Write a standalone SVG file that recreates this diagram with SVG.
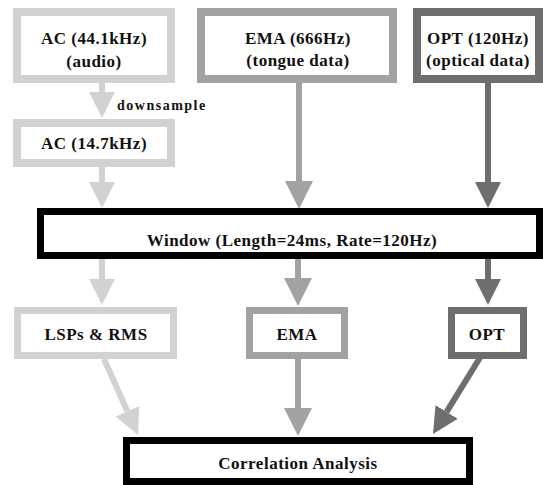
<svg xmlns="http://www.w3.org/2000/svg" width="543" height="485" viewBox="0 0 543 485">
  <style>
    .box { fill: #ffffff; }
    .light { stroke: #d2d2d2; }
    .mid { stroke: #a2a2a2; }
    .dark { stroke: #6e6e6e; }
    .black { stroke: #000000; }
    .lbl { font-family: "Liberation Serif", "Times New Roman", serif; font-weight: bold; font-size: 17px; letter-spacing: 0.5px; fill: #111111; text-anchor: middle; }
    .note { font-family: "Liberation Serif", "Times New Roman", serif; font-weight: bold; font-size: 14px; letter-spacing: 1.5px; fill: #111111; }
    .conn { fill: none; stroke-width: 6; }
  </style>
  <defs>
    <marker id="headLight" markerUnits="userSpaceOnUse" markerWidth="26" markerHeight="26" refX="0" refY="13" orient="auto" viewBox="0 0 26 26">
      <path d="M0,0 L26,13 L0,26 z" fill="#d2d2d2"/>
    </marker>
    <marker id="headMid" markerUnits="userSpaceOnUse" markerWidth="28" markerHeight="28" refX="0" refY="14" orient="auto" viewBox="0 0 28 28">
      <path d="M0,0 L28,14 L0,28 z" fill="#a2a2a2"/>
    </marker>
    <marker id="headDark" markerUnits="userSpaceOnUse" markerWidth="26" markerHeight="26" refX="0" refY="13" orient="auto" viewBox="0 0 26 26">
      <path d="M0,0 L26,13 L0,26 z" fill="#6e6e6e"/>
    </marker>
  </defs>

  <g id="connectors">
    <line class="conn light" x1="102" y1="83" x2="102" y2="92" marker-end="url(#headLight)"/>
    <line class="conn light" x1="102" y1="167" x2="102" y2="182" marker-end="url(#headLight)"/>
    <line class="conn mid" x1="299" y1="83" x2="299" y2="181" marker-end="url(#headMid)"/>
    <line class="conn dark" x1="488" y1="83" x2="488" y2="182" marker-end="url(#headDark)"/>
    <line class="conn light" x1="102" y1="259" x2="102" y2="279" marker-end="url(#headLight)"/>
    <line class="conn mid" x1="298" y1="259" x2="298" y2="278" marker-end="url(#headMid)"/>
    <line class="conn dark" x1="488" y1="259" x2="488" y2="279" marker-end="url(#headDark)"/>
    <line class="conn light" x1="104" y1="359" x2="127.4" y2="411.3" marker-end="url(#headLight)"/>
    <line class="conn mid" x1="298" y1="359" x2="298" y2="408" marker-end="url(#headMid)"/>
    <line class="conn dark" x1="481" y1="356" x2="446.6" y2="411.9" marker-end="url(#headDark)"/>
  </g>

  <g id="ac-audio">
    <rect class="box light" x="17" y="12" width="154" height="67" stroke-width="8"/>
    <text class="lbl" x="94" y="44">AC (44.1kHz)</text>
    <text class="lbl" x="94" y="67">(audio)</text>
  </g>

  <text id="downsample" class="note" x="117" y="110">downsample</text>

  <g id="ac-down">
    <rect class="box light" x="17" y="123" width="154" height="40" stroke-width="8"/>
    <text class="lbl" x="94" y="149">AC (14.7kHz)</text>
  </g>

  <g id="ema-in">
    <rect class="box mid" x="201" y="12" width="192" height="67" stroke-width="8"/>
    <text class="lbl" x="298" y="44">EMA (666Hz)</text>
    <text class="lbl" x="298" y="66">(tongue data)</text>
  </g>

  <g id="opt-in">
    <rect class="box dark" x="417" y="12" width="122" height="67" stroke-width="8"/>
    <text class="lbl" x="478" y="44">OPT (120Hz)</text>
    <text class="lbl" x="478" y="66">(optical data)</text>
  </g>

  <g id="window">
    <rect class="box black" x="40.5" y="211.5" width="499" height="44" stroke-width="7"/>
    <text class="lbl" x="292" y="246">Window (Length=24ms, Rate=120Hz)</text>
  </g>

  <g id="lsp-rms">
    <rect class="box light" x="17.5" y="310.5" width="156" height="45" stroke-width="7"/>
    <text class="lbl" x="96" y="340">LSPs &amp; RMS</text>
  </g>

  <g id="ema-out">
    <rect class="box mid" x="249.5" y="310.5" width="95" height="45" stroke-width="7"/>
    <text class="lbl" x="297" y="340">EMA</text>
  </g>

  <g id="opt-out">
    <rect class="box dark" x="451.5" y="310.5" width="72" height="45" stroke-width="7"/>
    <text class="lbl" x="487" y="340">OPT</text>
  </g>

  <g id="correlation">
    <rect class="box black" x="126.5" y="440.5" width="343" height="41" stroke-width="7"/>
    <text class="lbl" x="298" y="469">Correlation Analysis</text>
  </g>
</svg>
